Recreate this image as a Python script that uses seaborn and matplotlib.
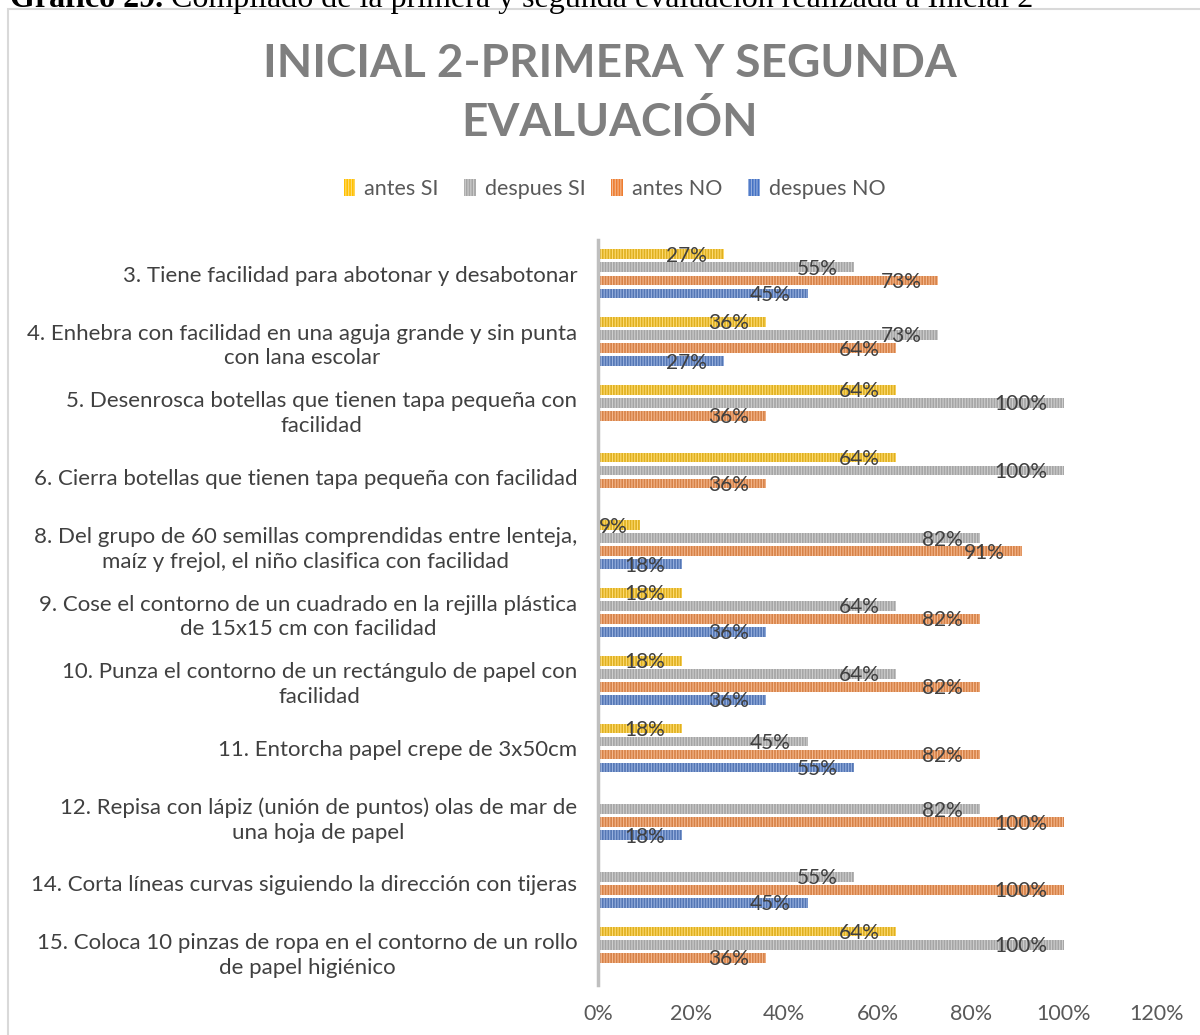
import numpy as np
import pandas as pd
import matplotlib
matplotlib.use("Agg")
import matplotlib.pyplot as plt
from matplotlib.colors import to_rgb
from matplotlib.patches import Patch, Rectangle
from matplotlib.ticker import PercentFormatter
import seaborn as sns

# datos (NaN = sin barra)
items = [
    "3. Tiene facilidad para abotonar y desabotonar",
    "4. Enhebra con facilidad en una aguja grande y sin punta\ncon lana escolar",
    "5. Desenrosca botellas que tienen tapa pequeña con\nfacilidad",
    "6. Cierra botellas que tienen tapa pequeña con facilidad",
    "8. Del grupo de 60 semillas comprendidas entre lenteja,\nmaíz y frejol, el niño clasifica con facilidad",
    "9. Cose el contorno de un cuadrado en la rejilla plástica\nde 15x15 cm con facilidad",
    "10. Punza el contorno de un rectángulo de papel con\nfacilidad",
    "11. Entorcha papel crepe de 3x50cm",
    "12. Repisa con lápiz (unión de puntos) olas de mar de\nuna hoja de papel",
    "14. Corta líneas curvas siguiendo la dirección con tijeras",
    "15. Coloca 10 pinzas de ropa en el contorno de un rollo\nde papel higiénico",
]
antes_si = [0.27, 0.36, 0.64, 0.64, 0.09, 0.18, 0.18, 0.18, np.nan, np.nan, 0.64]
despues_si = [0.55, 0.73, 1.00, 1.00, 0.82, 0.64, 0.64, 0.45, 0.82, 0.55, 1.00]
antes_no = [0.73, 0.64, 0.36, 0.36, 0.91, 0.82, 0.82, 0.82, 1.00, 1.00, 0.36]
despues_no = [0.45, 0.27, np.nan, np.nan, 0.18, 0.36, 0.36, 0.55, 0.18, 0.45, np.nan]

series = ["antes SI", "despues SI", "antes NO", "despues NO"]
colores = ["#FFC000", "#A5A5A5", "#ED7D31", "#4472C4"]


def aclarar(c, f=0.45):
    r, g, b = to_rgb(c)
    return (r + (1 - r) * f, g + (1 - g) * f, b + (1 - b) * f)


df = pd.DataFrame({"item": items, "antes SI": antes_si, "despues SI": despues_si,
                   "antes NO": antes_no, "despues NO": despues_no})
df = df.melt(id_vars="item", var_name="serie", value_name="valor").dropna()

sns.set_style("white")
plt.rcParams["font.family"] = ["Lato", "DejaVu Sans"]
plt.rcParams["hatch.linewidth"] = 0.8

fig = plt.figure(figsize=(12, 10.35), dpi=100)
ax = fig.add_axes([0.4983, 0.0483, 0.4658, 0.7198])

sns.barplot(data=df, x="valor", y="item", hue="serie", order=items, hue_order=series,
            palette=colores, orient="h", errorbar=None, width=0.77, gap=0.25,
            hatch="||||||", linewidth=0, legend=False, ax=ax)

# rayas claras del mismo color
for cont, c in zip(ax.containers, colores):
    for p in cont:
        p.set_edgecolor(aclarar(c))
        p.set_linewidth(0)

# etiquetas de datos
for p in ax.patches:
    w = p.get_width()
    if np.isnan(w) or w <= 0:
        continue
    yc = p.get_y() + p.get_height() / 2
    if w < 0.12:
        ax.annotate(f"{w:.0%}", (0, yc), xytext=(1, -1), textcoords="offset points",
                    ha="left", va="center", fontsize=15, color="#404040")
    else:
        ax.annotate(f"{w:.0%}", (w, yc), xytext=(-12, -1), textcoords="offset points",
                    ha="right", va="center", fontsize=15, color="#404040")

ax.set_xlim(0, 1.2)
ax.set_xticks(np.arange(0, 1.21, 0.2))
ax.xaxis.set_major_formatter(PercentFormatter(1.0, decimals=0))
ax.set_xlabel("")
ax.set_ylabel("")
ax.tick_params(axis="x", length=0, pad=14, labelsize=15.5, labelcolor="#595959")
ax.tick_params(axis="y", length=0, pad=15, labelsize=16, labelcolor="#404040")
for lab in ax.get_yticklabels():
    lab.set_multialignment("center")
    lab.set_linespacing(1.3)
for s in ["top", "right", "bottom"]:
    ax.spines[s].set_visible(False)
ax.spines["left"].set_color("#BFBFBF")
ax.spines["left"].set_linewidth(2.5)

# leyenda
handles = [Patch(facecolor=c, edgecolor=aclarar(c), linewidth=0, hatch="||||||", label=s)
           for c, s in zip(colores, series)]
fig.legend(handles=handles, loc="center", bbox_to_anchor=(0.512, 0.8174), ncol=4,
           frameon=False, fontsize=15.5, labelcolor="#595959", handlelength=0.55,
           handleheight=0.8, handletextpad=0.4, columnspacing=1.2)

# titulo
fig.text(0.508, 0.9095, "INICIAL 2-PRIMERA Y SEGUNDA\nEVALUACIÓN", ha="center",
         va="center", fontsize=33, fontweight="bold", color="#7F7F7F",
         linespacing=1.45)

# marco del grafico
fig.patches.append(Rectangle((0.0067, -0.01), 1.1, 1.001, transform=fig.transFigure,
                             fill=False, edgecolor="#D9D9D9", linewidth=1.5))

# pie de figura (cortado arriba)
t1 = fig.text(0.008, 1 - 7 / 1035, "Gráfico 29.", ha="left", va="baseline",
              fontsize=23, fontweight="bold", family="Liberation Serif", color="black")
fig.canvas.draw()
bb = t1.get_window_extent(fig.canvas.get_renderer())
fig.text(bb.x1 / fig.bbox.width, 1 - 7 / 1035,
         " Compilado de la primera y segunda evaluación realizada a Inicial 2",
         ha="left", va="baseline", fontsize=23, family="Liberation Serif", color="black")

fig.savefig("out.png", dpi=100, facecolor="white")
